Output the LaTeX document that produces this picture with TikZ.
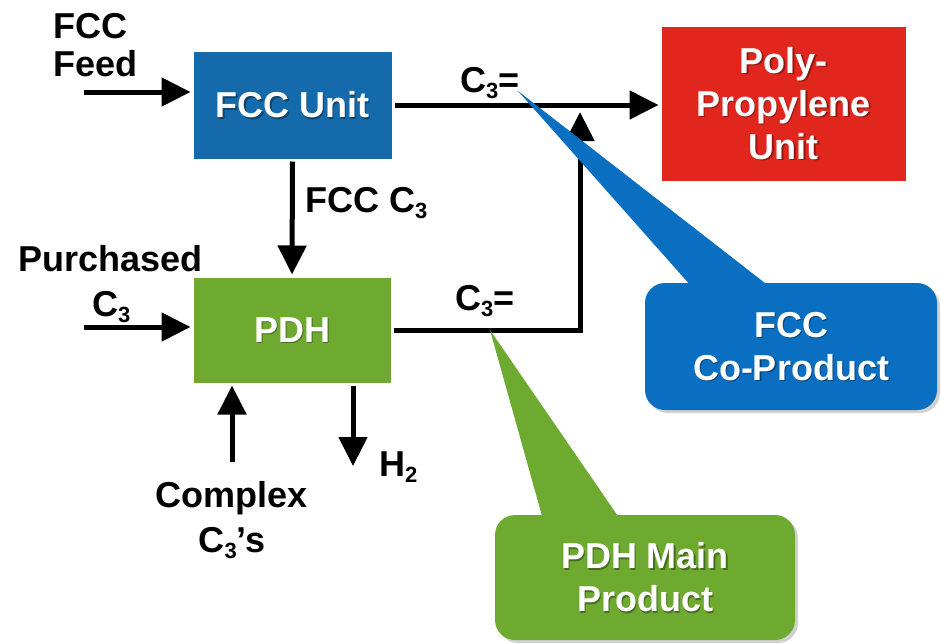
\documentclass[tikz,border=0pt]{standalone}
\usepackage{fontspec}
\setmainfont{Liberation Sans}
\usetikzlibrary{arrows.meta,shadows,calc}

\definecolor{unitblue}{HTML}{156AAB}
\definecolor{callblue}{HTML}{0A6FC0}
\definecolor{ppred}{HTML}{E0261D}
\definecolor{pdhgreen}{HTML}{6EAA2F}

% lowered index digit for formulas such as C3
\newcommand\lowsub[1]{\raisebox{-0.32ex}{\fontsize{22}{22}\selectfont #1}}

\tikzset{
  unitbox/.style={draw=white, line width=3pt, inner sep=0pt,
    drop shadow={shadow xshift=2pt, shadow yshift=-2pt, opacity=0.3, fill=black!60}},
  callbox/.style={rounded corners=20pt, inner sep=0pt,
    drop shadow={shadow xshift=3pt, shadow yshift=-3pt, opacity=0.3, fill=black!60}},
  boxtxt/.style={font=\bfseries\fontsize{36}{43}\selectfont, align=center, inner sep=0pt},
  lbl/.style={font=\bfseries\fontsize{36}{40}\selectfont, inner sep=0pt, text=black},
  flow/.style={line width=5pt, -{Triangle[length=29pt,width=28pt]}},
}

% white caption with a soft dark shadow behind it
\newcommand\boxlabel[3]{%
  \node[boxtxt, text=black, opacity=0.35] (#1s) at ($(#2)+(1.5,1.5)$) {#3};
  \node[boxtxt, text=white] (#1) at (#2) {#3};}

\begin{document}
\begin{tikzpicture}[x=1pt, y=-1pt]
\useasboundingbox (0,0) rectangle (941,643);

% process units
\node[unitbox, fill=unitblue, minimum width=201pt, minimum height=110pt] (fcc) at (292.5,105) {};
\node[unitbox, fill=ppred, minimum width=247pt, minimum height=157pt] (pp) at (783.5,103.5) {};
\node[unitbox, fill=pdhgreen, minimum width=200pt, minimum height=108pt] (pdh) at (292,330) {};
\boxlabel{fcct}{fcc}{FCC Unit}
\boxlabel{ppt}{pp}{Poly-\\Propylene\\Unit}
\boxlabel{pdht}{pdh}{PDH}

% feeds and products
\coordinate (feedin) at (84,92);
\coordinate (purin) at (84,327);
\coordinate (cxin) at (232,462);
\coordinate (h2out) at (353,466);
\coordinate (merge) at (580,112);

\draw[flow] (feedin) -- (feedin -| fcc.west);
\draw[flow] (fcc.east) -- (pp.west |- fcc.east);
\draw[flow] (fcc.south) -- (pdh.north);
\draw[flow] (purin) -- (purin -| pdh.west);
\draw[flow] (cxin) -- (cxin |- pdh.south);
\draw[flow] (h2out |- pdh.south) -- (h2out);
\draw[flow] (pdh.east) -| (merge);

% stream labels
\node[lbl, anchor=base west] (feedA) at (53,38) {FCC};
\node[lbl, anchor=base west] (feedB) at (53,76) {Feed};
\node[lbl, anchor=base west] (c3top) at (460,92) {C\lowsub{3}=};
\node[lbl, anchor=base west] (c3low) at (455,310) {C\lowsub{3}=};
\node[lbl, anchor=base west] (fccc3) at (305,212) {FCC C\lowsub{3}};
\node[lbl, anchor=base west] (purA) at (18,271) {Purchased};
\node[lbl, anchor=base west] (purB) at (92,316) {C\lowsub{3}};
\node[lbl, anchor=base] (cxA) at (232,507) {Complex};
\node[lbl, anchor=base] (cxB) at (232,552) {C\lowsub{3}’s};
\node[lbl, anchor=base west] (h2) at (379,476) {H\lowsub{2}};

% callouts
\node[callbox, fill=callblue, minimum width=292pt, minimum height=127pt] (cop) at (791,346.5) {};
\coordinate (coptip) at (518,91);
\fill[callblue] (coptip) -- ($(cop.north west)+(47,4)$) -- ($(cop.north west)+(125,4)$) -- cycle;
\boxlabel{copt}{cop}{FCC\\Co-Product}

\node[callbox, fill=pdhgreen, minimum width=300pt, minimum height=125pt] (mp) at (645,577.5) {};
\coordinate (mptip) at (490,330);
\fill[pdhgreen] (mptip) -- ($(mp.north west)+(48,4)$) -- ($(mp.north west)+(125,4)$) -- cycle;
\boxlabel{mpt}{mp}{PDH Main\\Product}
\end{tikzpicture}
\end{document}
